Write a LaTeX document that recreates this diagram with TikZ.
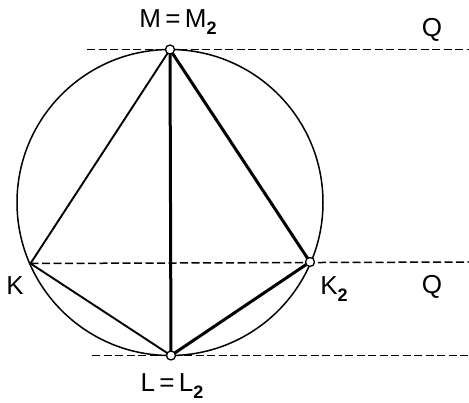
\documentclass[tikz,border=0pt]{standalone}
\usepackage{fontspec}
\setmainfont{Liberation Sans}
\newcommand{\sbs}[1]{\raisebox{-0.45ex}{\fontsize{18}{18}\selectfont\bfseries #1}}
\begin{document}
\begin{tikzpicture}[x=1pt,y=-1pt,
  thin line/.style={line width=1.5pt},
  mid line/.style={line width=1.9pt},
  thick line/.style={line width=3pt},
  dash line/.style={line width=1.5pt,dash pattern=on 8pt off 3.5pt},
  pt/.style={circle,draw,fill=white,line width=1.3pt,inner sep=0pt,minimum size=9pt},
  lbl/.style={font=\fontsize{26}{26}\selectfont,inner sep=0pt}]
\useasboundingbox (0,0) rectangle (469,403);
\coordinate (O) at (170,202.5);
\draw[thin line] (O) circle (153);
\coordinate (Kc) at (30.5,263.5);
\coordinate (M) at (170,49.5);
\coordinate (L) at (171,355.5);
\coordinate (K2c) at (310,262);
\coordinate (Qa) at (469,49.5);
\coordinate (Qb) at (469,262);
\coordinate (Qc) at (469,355.5);
\coordinate (Da) at (87,49.5);
\coordinate (Dc) at (92,355.5);
% dashed lines
\draw[dash line] (Da) -- (Qa);
\draw[dash line] (Kc) -- (Qb);
\draw[dash line] (Dc) -- (Qc);
% quadrilateral
\draw[mid line] (Kc) -- (M);
\draw[mid line] (Kc) -- (L);
\draw[thick line] (M) -- (L);
\draw[thick line] (M) -- (K2c);
\draw[thick line] (L) -- (K2c);
% points
\node[pt] (Mp) at (M) {};
\node[pt] (Lp) at (L) {};
\node[pt] (K2p) at (K2c) {};
% labels
\node[lbl] (lM) at (178,22) {M\,=\,M\sbs{2}};
\node[lbl] (lL) at (172,386) {L\,=\,L\sbs{2}};
\node[lbl] (lK) at (15,286) {K};
\node[lbl] (lK2) at (334,289) {K\sbs{2}};
\node[lbl] (lQa) at (432,30) {Q};
\node[lbl] (lQb) at (432,287) {Q};
\end{tikzpicture}
\end{document}
